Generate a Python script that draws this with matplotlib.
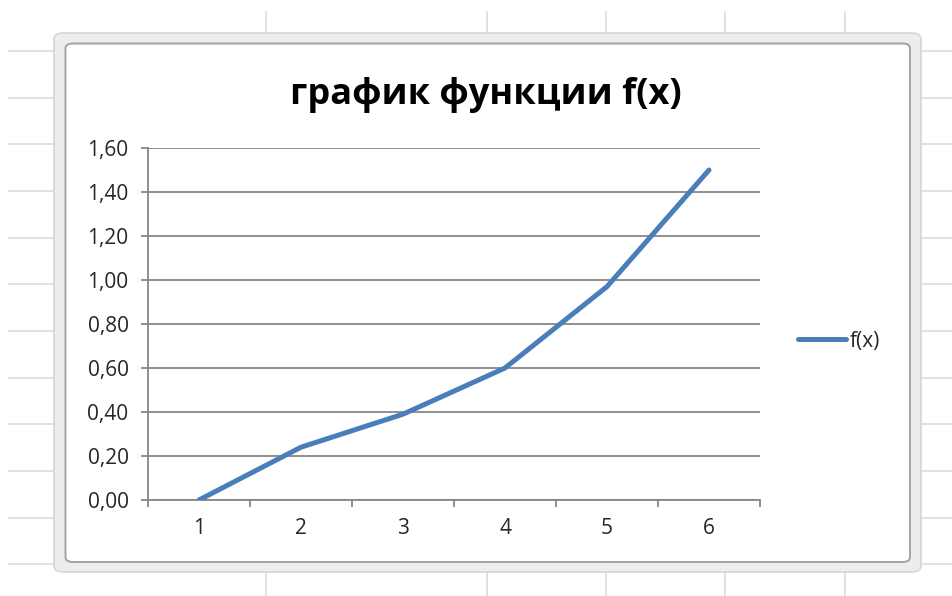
import matplotlib
matplotlib.use("Agg")
import matplotlib.pyplot as plt
from matplotlib.patches import FancyBboxPatch
from matplotlib.lines import Line2D
from matplotlib.ticker import FixedLocator, FuncFormatter

plt.rcParams['font.family'] = ['Open Sans', 'DejaVu Sans']

# Data
x_values = [1, 2, 3, 4, 5, 6]
f_values = [0.00, 0.24, 0.39, 0.60, 0.97, 1.50]
series_name = "f(x)"
title_text = "график функции f(x)"
y_ticks = [0.0, 0.2, 0.4, 0.6, 0.8, 1.0, 1.2, 1.4, 1.6]

W, H = 952, 596
fig = plt.figure(figsize=(W / 100, H / 100), dpi=100)
fig.patch.set_facecolor('white')


def fx(px):
    return px / W


def fy(py):
    return 1 - py / H


# Worksheet cell grid behind the chart object
cell_color = '#dadcde'
row_lines = [51, 97.7, 144.3, 191, 237.7, 284.3, 331, 377.7, 424.3, 471, 517.7, 564.3]
col_lines = [266, 487, 606, 725, 845]
for ry in row_lines:
    fig.add_artist(Line2D([fx(9), fx(56)], [fy(ry), fy(ry)], color=cell_color, lw=1.2, zorder=0))
    fig.add_artist(Line2D([fx(918), fx(952)], [fy(ry), fy(ry)], color=cell_color, lw=1.2, zorder=0))
for cx in col_lines:
    fig.add_artist(Line2D([fx(cx), fx(cx)], [fy(12), fy(34)], color=cell_color, lw=1.2, zorder=0))
    fig.add_artist(Line2D([fx(cx), fx(cx)], [fy(571), fy(596)], color=cell_color, lw=1.2, zorder=0))

# Chart object frame
outer = FancyBboxPatch((fx(54), fy(572)), fx(921) - fx(54), fy(33) - fy(572),
                       boxstyle="round,pad=0,rounding_size=0.01",
                       transform=fig.transFigure, facecolor='#ededed',
                       edgecolor='#d6d6d6', lw=1.2, zorder=1)
fig.add_artist(outer)
inner = FancyBboxPatch((fx(65.5), fy(562)), fx(910) - fx(65.5), fy(43.5) - fy(562),
                       boxstyle="round,pad=0,rounding_size=0.008",
                       transform=fig.transFigure, facecolor='white',
                       edgecolor='#a3a3a3', lw=1.4, zorder=2)
fig.add_artist(inner)

# Plot area
ax = fig.add_axes([fx(148), fy(500), fx(760) - fx(148), fy(148) - fy(500)], zorder=3)
ax.set_facecolor('none')
axis_gray = '#878787'
label_size = 15

ax.plot(x_values, f_values, color='#4a7ebb', lw=3.6, solid_capstyle='round',
        solid_joinstyle='round', label=series_name, zorder=4)

ax.set_xlim(0.5, 6.5)
ax.set_ylim(0, 1.6)

ax.yaxis.set_major_locator(FixedLocator(y_ticks))
ax.yaxis.set_major_formatter(FuncFormatter(lambda v, p: f"{v:.2f}".replace('.', ',')))
ax.grid(axis='y', color=axis_gray, lw=1.3)
ax.set_axisbelow(True)

# Category axis: ticks between categories, labels centred on categories
ax.xaxis.set_major_locator(FixedLocator([i + 0.5 for i in range(0, 7)]))
ax.xaxis.set_major_formatter(FuncFormatter(lambda v, p: ""))
ax.xaxis.set_minor_locator(FixedLocator(x_values))
ax.xaxis.set_minor_formatter(FuncFormatter(lambda v, p: f"{int(v)}"))
ax.tick_params(axis='x', which='major', length=5, width=1.3, color=axis_gray, direction='out')
ax.tick_params(axis='x', which='minor', length=0, pad=13, labelsize=label_size, labelcolor='#262626')
ax.tick_params(axis='y', which='major', length=5, width=1.3, color=axis_gray, direction='out',
               pad=9, labelsize=label_size, labelcolor='#262626')

for side in ('top', 'right'):
    ax.spines[side].set_visible(False)
for side in ('left', 'bottom'):
    ax.spines[side].set_color(axis_gray)
    ax.spines[side].set_linewidth(1.3)

fig.text(fx(486), fy(95), title_text, ha='center', va='center',
         fontsize=26, fontweight='bold', color='black', zorder=5)

leg = ax.legend(loc='center left', bbox_to_anchor=(fx(788), fy(341)),
                bbox_transform=fig.transFigure, frameon=False, fontsize=label_size,
                handlelength=2.3, handletextpad=0.15, borderpad=0)
for t in leg.get_texts():
    t.set_color('#262626')

fig.savefig('out.png', dpi=100)
